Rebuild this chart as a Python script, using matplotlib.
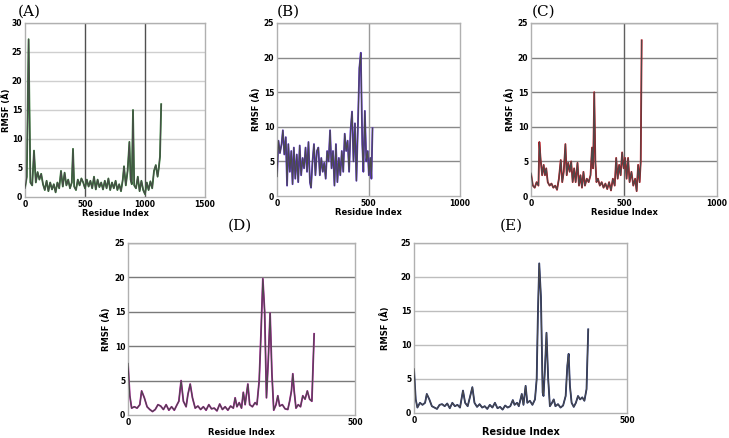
import matplotlib
matplotlib.use("Agg")
import matplotlib.pyplot as plt

# ---- data (residue index, RMSF in Angstrom) ----
a_x = [0, 15, 30, 45, 60, 75, 90, 105, 120, 135, 150, 165, 180, 195, 210, 225, 240, 255, 270, 285,
       300, 315, 330, 345, 360, 375, 390, 400, 410, 425, 440, 455, 470, 485, 500, 515, 530, 545, 560,
       575, 590, 605, 620, 635, 650, 665, 680, 695, 710, 725, 740, 755, 770, 785, 800, 815, 825, 840,
       855, 870, 880, 890, 900, 910, 925, 940, 955, 970, 985, 1000, 1015, 1030, 1045, 1060, 1075,
       1090, 1105, 1115, 1125, 1135]
a_y = [1.5, 3.5, 27.2, 2.5, 2.0, 8.0, 2.5, 4.3, 3.0, 4.0, 2.2, 1.2, 2.8, 1.0, 2.5, 1.3, 2.2, 0.8, 2.5, 1.5,
       4.5, 1.8, 4.2, 2.0, 3.0, 1.5, 2.5, 8.3, 1.8, 1.2, 3.0, 2.0, 3.2, 2.5, 1.5, 3.0, 1.8, 2.8, 1.5,
       3.5, 1.3, 3.0, 1.7, 2.5, 1.3, 2.8, 1.5, 3.2, 1.2, 2.5, 1.5, 2.8, 1.2, 2.2, 1.0, 3.0, 5.3, 2.0,
       4.5, 9.5, 3.0, 2.2, 15.0, 2.0, 1.5, 3.5, 1.0, 2.8, 1.2, 0.5, 2.5, 1.2, 2.7, 1.5, 4.5,
       5.5, 3.5, 5.0, 7.0, 16.0]

b_x = [0, 8, 16, 25, 32, 40, 48, 55, 62, 70, 78, 85, 92, 100, 108, 116, 124, 132, 140, 148, 156, 164,
       172, 180, 186, 194, 202, 210, 218, 226, 234, 242, 250, 258, 266, 274, 282, 290, 298, 306, 314,
       322, 330, 338, 346, 354, 362, 370, 378, 386, 394, 402, 410, 418, 426, 434, 442, 450, 458, 466,
       472, 480, 488, 496, 502, 510, 516, 522]
b_y = [2.8, 8.0, 6.2, 7.5, 9.5, 6.0, 8.5, 1.5, 7.5, 3.5, 6.5, 1.7, 7.0, 2.5, 6.0, 2.0, 7.3, 3.0, 5.5, 4.0,
       7.0, 3.5, 7.8, 2.0, 1.2, 5.0, 7.5, 3.0, 6.5, 7.0, 3.0, 5.5, 3.5, 4.8, 2.5, 6.5, 5.0, 9.5, 4.0,
       6.5, 1.5, 7.5, 2.0, 5.5, 3.0, 6.5, 3.5, 9.0, 6.5, 8.0, 3.5, 9.5, 12.2, 5.0, 10.5, 2.2, 10.0,
       18.5, 20.7, 7.5, 3.5, 12.3, 5.0, 6.5, 3.0, 5.5, 2.5, 9.8]

c_x = [0, 10, 20, 30, 40, 45, 52, 60, 68, 75, 82, 90, 100, 110, 120, 130, 140, 150, 160, 168, 176, 185,
       192, 200, 208, 216, 224, 232, 240, 250, 258, 266, 274, 282, 290, 300, 310, 320, 328, 334, 340,
       346, 352, 360, 370, 380, 390, 400, 410, 420, 430, 440, 450, 458, 466, 474, 482, 490, 498, 506,
       514, 522, 530, 540, 550, 560, 568, 576, 584, 590, 595]
c_y = [3.3, 1.5, 1.2, 2.0, 1.5, 7.8, 5.2, 3.0, 4.5, 3.0, 4.0, 2.0, 1.5, 1.8, 1.2, 1.5, 0.9, 2.5, 5.2, 2.0,
       3.5, 7.5, 3.0, 4.8, 3.5, 5.0, 2.0, 4.0, 2.0, 4.8, 1.5, 3.0, 1.2, 3.5, 1.5, 2.5, 2.0, 3.0, 7.0,
       4.0, 15.0, 5.0, 2.0, 2.5, 1.5, 2.0, 1.2, 1.8, 1.0, 2.0, 0.8, 2.5, 1.5, 5.5, 2.5, 4.5, 3.0, 6.3,
       4.0, 5.5, 2.5, 5.5, 2.0, 3.5, 1.5, 2.5, 0.7, 4.5, 2.0, 5.0, 22.5]

d_x = [0, 4, 8, 14, 20, 26, 30, 36, 42, 48, 54, 60, 66, 72, 78, 84, 90, 96, 102, 108, 112, 117, 122,
       128, 132, 137, 142, 148, 154, 160, 166, 172, 178, 184, 190, 196, 202, 208, 214, 220, 226, 232,
       236, 240, 245, 250, 254, 258, 264, 268, 274, 280, 284, 289, 293, 297, 301, 305, 309, 313, 317,
       321, 326, 330, 334, 340, 346, 352, 356, 360, 363, 366, 370, 375, 380, 385, 390, 395, 400, 405,
       410]
d_y = [7.5, 2.8, 1.0, 1.2, 1.0, 1.5, 3.5, 2.5, 1.2, 0.8, 0.5, 0.8, 1.5, 1.3, 0.8, 1.5, 0.7, 1.2, 0.7,
       1.5, 2.0, 5.0, 2.0, 1.2, 3.0, 4.5, 2.5, 1.0, 1.3, 0.8, 1.2, 0.7, 1.5, 0.9, 1.0, 0.6, 1.6, 0.8,
       1.2, 0.7, 1.3, 1.0, 2.5, 1.2, 1.8, 1.0, 3.3, 1.5, 4.5, 1.5, 1.2, 1.8, 1.5, 5.0, 12.0, 19.8,
       15.0, 2.5, 8.0, 14.8, 6.0, 0.7, 1.5, 2.8, 1.3, 1.5, 0.9, 0.8, 2.0, 3.5, 6.0, 3.5, 1.0, 1.5,
       1.2, 2.8, 2.3, 3.5, 2.3, 2.0, 11.8]

e_x = [0, 4, 8, 14, 20, 26, 30, 36, 42, 48, 54, 60, 66, 72, 78, 84, 90, 96, 102, 108, 115, 120, 126,
       132, 137, 142, 148, 154, 160, 166, 172, 178, 184, 190, 196, 202, 208, 214, 220, 226, 232, 236,
       242, 246, 250, 253, 257, 262, 266, 272, 278, 284, 288, 291, 294, 298, 302, 304, 307, 311, 315,
       319, 324, 328, 332, 338, 344, 350, 356, 360, 363, 366, 370, 375, 380, 385, 390, 395, 400, 405,
       409]
e_y = [6.5, 2.0, 0.8, 1.5, 1.2, 1.5, 2.8, 2.0, 1.0, 0.8, 0.6, 1.2, 1.3, 1.0, 1.4, 0.7, 1.5, 1.0, 1.2,
       0.8, 3.3, 1.5, 1.0, 2.5, 3.8, 1.5, 0.9, 1.3, 0.8, 1.0, 0.6, 1.2, 0.8, 1.5, 0.7, 0.9, 0.5, 1.1,
       0.8, 1.0, 1.9, 1.2, 1.5, 1.0, 2.0, 2.8, 1.2, 4.0, 1.5, 1.8, 1.2, 2.0, 5.0, 15.0, 22.0, 17.0,
       3.0, 2.5, 6.0, 11.8, 5.0, 1.0, 1.5, 2.0, 1.0, 1.3, 0.8, 1.1, 2.5, 7.0, 8.7, 4.0, 1.5, 0.9,
       1.5, 2.5, 2.0, 2.3, 1.8, 3.5, 12.3]

W, H = 729, 438
fig = plt.figure(figsize=(W / 100, H / 100), dpi=100)
fig.patch.set_facecolor("white")


def panel(box, x, y, color, label, label_xy, xmax, xticks, ymax, hgrid, vlines, vcolor,
          ylab_off, xlab_off, xlab_size=6):
    # box = (left, top, right, bottom) in pixels of the figure
    l, t, r, b = box
    ax = fig.add_axes([l / W, 1 - b / H, (r - l) / W, (b - t) / H])
    for yv in range(5, ymax + 1, 5):
        ax.axhline(yv, color=hgrid, linewidth=1.0, zorder=1)
    for xv in vlines:
        ax.axvline(xv, color=vcolor, linewidth=1.0, zorder=1)
    ax.plot(x, y, color=color, linewidth=1.3, zorder=2)
    ax.plot(x, y, color="#4a4a4a", linewidth=0.8, zorder=3)
    ax.set_xlim(0, xmax)
    ax.set_ylim(0, ymax)
    ax.set_xticks(xticks)
    ax.set_yticks(range(0, ymax + 1, 5))
    ax.tick_params(length=0, labelsize=5.5, pad=2)
    for tl in ax.get_xticklabels() + ax.get_yticklabels():
        tl.set_fontweight("bold")
    for s in ax.spines.values():
        s.set_color("#b0b0b0")
        s.set_linewidth(1.0)
    ax.set_xlabel("Residue Index", fontsize=xlab_size, fontweight="bold")
    ax.set_ylabel("RMSF (Å)", fontsize=6, fontweight="bold")
    ax.yaxis.set_label_coords(-ylab_off / (r - l), 0.5)
    ax.xaxis.set_label_coords(0.5, -xlab_off / (b - t))
    fig.text(label_xy[0] / W, 1 - label_xy[1] / H, label, fontsize=11,
             family="DejaVu Serif", ha="left", va="center")
    return ax


panel((25, 23, 205, 197), a_x, a_y, "#2e7d32", "(A)", (18, 12),
      1500, [0, 500, 1000, 1500], 30, "#cfcfcf", [500, 1000], "#505050", 14, 12)
panel((277, 23, 460, 196), b_x, b_y, "#5b2fd6", "(B)", (277, 12),
      1000, [0, 500, 1000], 25, "#8a8a8a", [500], "#9a9a9a", 16, 12)
panel((531, 23, 717, 196), c_x, c_y, "#c8101c", "(C)", (532, 12),
      1000, [0, 500, 1000], 25, "#808080", [500], "#606060", 16, 12)
panel((128, 243, 355, 415), d_x, d_y, "#b0189e", "(D)", (228, 226),
      500, [0, 500], 25, "#7a7a7a", [], "#000000", 17, 13)
panel((414, 243, 627, 413), e_x, e_y, "#1c2c70", "(E)", (500, 226),
      500, [0, 500], 25, "#bdbdbd", [], "#000000", 24, 14, xlab_size=7)

fig.savefig("out.png", dpi=100)
